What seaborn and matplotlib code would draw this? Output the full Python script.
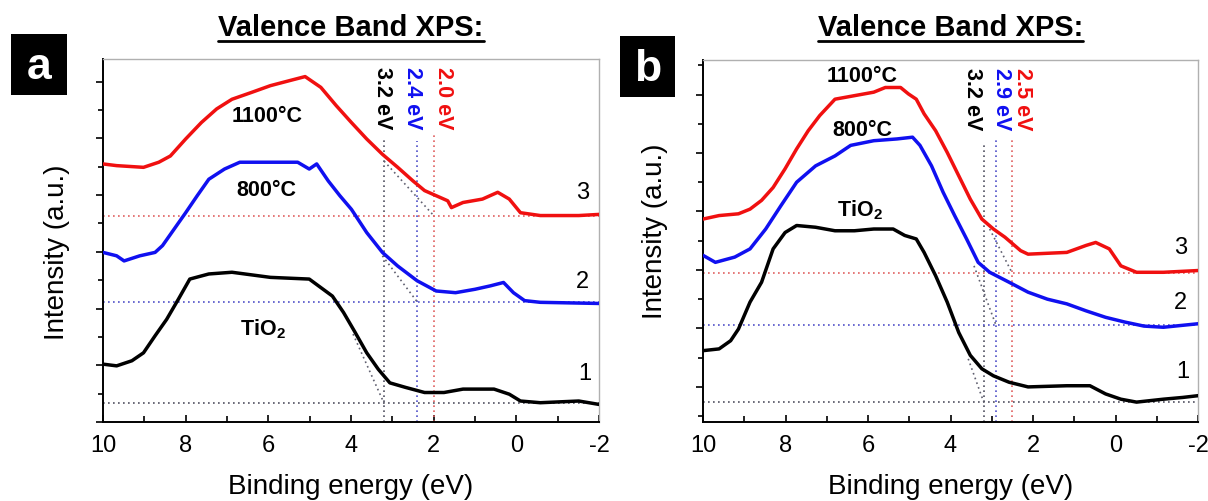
import numpy as np
import pandas as pd
import matplotlib.pyplot as plt
import seaborn as sns
from matplotlib.patches import Rectangle
from matplotlib.lines import Line2D
from matplotlib.ticker import MultipleLocator

# ---- panel a: valence band spectra (binding energy eV, intensity offset a.u.) ----
a_red_x = [10, 9.67, 9.02, 8.65, 8.37, 8.0, 7.62, 7.25, 6.88, 6.41, 5.95, 5.48, 5.11, 4.73, 4.36,
           3.99, 3.62, 3.24, 2.87, 2.5, 2.22, 1.94, 1.66, 1.57, 1.29, 0.82, 0.45, 0.17, -0.1, -0.58, -1.51, -2]
a_red_y = [4.55, 4.52, 4.49, 4.58, 4.69, 4.99, 5.28, 5.52, 5.69, 5.81, 5.93, 6.02, 6.09, 5.9, 5.58,
           5.28, 4.99, 4.72, 4.49, 4.25, 4.08, 3.99, 3.9, 3.78, 3.87, 3.93, 4.05, 3.93, 3.69, 3.64, 3.64, 3.66]
a_blue_x = [10, 9.67, 9.49, 9.11, 8.74, 8.56, 8.28, 8.0, 7.72, 7.44, 7.06, 6.69, 5.95, 5.29, 5.01, 4.83,
            4.55, 4.27, 3.99, 3.62, 3.24, 2.87, 2.4, 1.94, 1.47, 1.0, 0.63, 0.31, 0.07, -0.2, -0.58, -2]
a_blue_y = [2.99, 2.93, 2.84, 2.93, 2.99, 3.11, 3.4, 3.69, 3.99, 4.28, 4.46, 4.58, 4.58, 4.58, 4.46, 4.55,
            4.25, 3.99, 3.75, 3.34, 2.99, 2.75, 2.49, 2.31, 2.28, 2.34, 2.4, 2.46, 2.28, 2.14, 2.11, 2.09]
a_black_x = [10, 9.67, 9.3, 9.02, 8.74, 8.46, 8.18, 7.9, 7.44, 6.88, 5.95, 5.01, 4.73, 4.45, 4.18, 3.9,
             3.62, 3.34, 3.06, 2.68, 2.22, 1.75, 1.29, 0.54, 0.17, -0.1, -0.58, -1.51, -2]
a_black_y = [1.02, 0.99, 1.08, 1.22, 1.52, 1.81, 2.16, 2.52, 2.61, 2.64, 2.55, 2.52, 2.37, 2.22, 1.93, 1.58,
             1.22, 0.93, 0.69, 0.61, 0.52, 0.52, 0.58, 0.58, 0.49, 0.37, 0.34, 0.37, 0.31]
a_base = [0.33, 2.12, 3.64]          # black, blue, red baselines
a_gap = [3.2, 2.4, 2.0]              # band gap onsets
a_gap_top = [4.99, 4.96, 5.08]
a_tan_start = [(3.95, 1.55), (3.24, 2.93), (3.2, 4.6)]

# ---- panel b ----
b_red_x = [10, 9.61, 9.14, 8.86, 8.58, 8.3, 8.01, 7.73, 7.45, 7.17, 6.8, 6.33, 5.86, 5.58, 5.21, 5.02, 4.83,
           4.64, 4.36, 4.08, 3.8, 3.52, 3.24, 2.96, 2.68, 2.3, 2.12, 1.18, 0.71, 0.48, 0.15, -0.13, -0.51, -1.16, -2]
b_red_y = [2.87, 2.93, 2.96, 3.04, 3.19, 3.41, 3.73, 4.07, 4.38, 4.64, 4.92, 4.98, 5.04, 5.12, 5.12, 5.01, 4.92,
           4.67, 4.38, 4.01, 3.61, 3.21, 2.87, 2.7, 2.56, 2.33, 2.27, 2.3, 2.42, 2.47, 2.36, 2.07, 1.96, 1.96, 1.99]
b_blue_x = [10, 9.7, 9.23, 8.86, 8.48, 8.11, 7.73, 7.27, 6.8, 6.42, 5.86, 5.3, 4.92, 4.74, 4.46, 4.18, 3.9,
            3.61, 3.33, 3.05, 2.58, 2.12, 1.65, 1.18, 0.71, 0.24, -0.22, -0.69, -1.16, -2]
b_blue_y = [2.25, 2.13, 2.22, 2.36, 2.7, 3.1, 3.5, 3.78, 3.95, 4.13, 4.21, 4.24, 4.27, 4.13, 3.78, 3.33, 2.93,
            2.53, 2.13, 1.96, 1.79, 1.62, 1.5, 1.42, 1.3, 1.19, 1.11, 1.04, 1.02, 1.08]
b_black_x = [10, 9.61, 9.33, 9.14, 8.86, 8.58, 8.3, 8.01, 7.73, 7.27, 6.8, 6.33, 5.86, 5.39, 5.11, 4.83, 4.64,
             4.36, 4.08, 3.8, 3.52, 3.24, 2.96, 2.58, 2.12, 1.18, 0.62, 0.24, -0.13, -0.51, -1.16, -1.63, -2]
b_black_y = [0.62, 0.65, 0.79, 0.99, 1.45, 1.79, 2.36, 2.64, 2.76, 2.73, 2.67, 2.67, 2.7, 2.7, 2.59, 2.53, 2.3,
             1.9, 1.45, 0.93, 0.54, 0.31, 0.19, 0.08, 0.0, 0.02, 0.02, -0.12, -0.21, -0.26, -0.21, -0.18, -0.15]
b_base = [-0.25, 1.06, 1.94]
b_gap = [3.2, 2.9, 2.5]
b_gap_top = [4.18, 4.24, 4.27]
b_tan_start = [(3.57, 0.48), (3.43, 2.07), (3.05, 2.7)]

colors = ['black', '#1010f0', '#f01010']
dot_colors = ['#505060', '#5050c8', '#e06060']
temps = ['TiO$_\\mathbf{2}$', '800°C', '1100°C']

sns.set_theme(style='ticks')
plt.rcParams['font.family'] = ['Liberation Sans', 'DejaVu Sans']
plt.rcParams['mathtext.fontset'] = 'custom'
plt.rcParams['mathtext.rm'] = 'Liberation Sans'
plt.rcParams['mathtext.bf'] = 'Liberation Sans:bold'
plt.rcParams['axes.unicode_minus'] = False
for k in ['text.color', 'axes.labelcolor', 'xtick.color', 'ytick.color']:
    plt.rcParams[k] = 'black'

fig = plt.figure(figsize=(12.08, 5.02), dpi=100)
ax_a = fig.add_axes([103 / 1208, 79 / 502, 496 / 1208, 363 / 502])
ax_b = fig.add_axes([703 / 1208, 79 / 502, 495 / 1208, 362 / 502])


def draw_panel(ax, curves, base, gap, gap_top, tan_start, ylim, temp_pos, num_pos, gap_pos, gap_label_top):
    ax.set_xlim(10, -2)
    ax.set_ylim(*ylim)
    dot = (0, (1, 2))
    for i in range(3):
        ax.axhline(base[i], color=dot_colors[i], ls=dot, lw=1.2, zorder=1)
        ax.plot([gap[i], gap[i]], [ylim[0], gap_top[i]], color=dot_colors[i], ls=dot, lw=1.2, zorder=1)
        ax.plot([tan_start[i][0], gap[i]], [tan_start[i][1], base[i]], color='#606070', ls=dot, lw=1.2, zorder=1)
    for i, (x, y) in enumerate(curves):
        df = pd.DataFrame({'E': x, 'I': y})
        sns.lineplot(data=df, x='E', y='I', ax=ax, color=colors[i], lw=2.5, sort=False, zorder=3)
        ax.text(*temp_pos[i], temps[i], fontsize=15.5, fontweight='bold', ha='center', va='center', zorder=4)
        ax.text(*num_pos[i], str(i + 1), fontsize=17, ha='center', va='center')
        ax.text(gap_pos[i], gap_label_top, f'{gap[i]:.1f} eV', color=colors[i], fontsize=15.5,
                fontweight='bold', rotation=270, ha='center', va='top')
    ax.xaxis.set_major_locator(MultipleLocator(2))
    ax.xaxis.set_minor_locator(MultipleLocator(1))
    ax.yaxis.set_major_locator(MultipleLocator(1))
    ax.yaxis.set_minor_locator(MultipleLocator(0.5))
    ax.tick_params(axis='x', which='both', direction='in', width=1.2, labelsize=17, pad=9)
    ax.tick_params(axis='x', which='major', length=5)
    ax.tick_params(axis='x', which='minor', length=4)
    ax.tick_params(axis='y', which='both', direction='out', width=1.2, labelleft=False)
    ax.tick_params(axis='y', which='major', length=5)
    ax.tick_params(axis='y', which='minor', length=3.5)
    for s in ['left', 'bottom']:
        ax.spines[s].set_color('black')
        ax.spines[s].set_linewidth(1.4)
    for s in ['top', 'right']:
        ax.spines[s].set_color('#b0b0b0')
        ax.spines[s].set_linewidth(1.0)
    ax.set_xlabel('Binding energy (eV)', fontsize=20, labelpad=12)
    ax.set_ylabel('Intensity (a.u.)', fontsize=20)


draw_panel(ax_a, [(a_black_x, a_black_y), (a_blue_x, a_blue_y), (a_red_x, a_red_y)],
           a_base, a_gap, a_gap_top, a_tan_start, (0, 6.4),
           [(6.13, 1.66), (6.04, 4.1), (6.04, 5.4)],
           [(-1.65, 0.87), (-1.6, 2.49), (-1.6, 4.05)],
           [3.24, 2.5, 1.75], 6.27)
draw_panel(ax_b, [(b_black_x, b_black_y), (b_blue_x, b_blue_y), (b_red_x, b_red_y)],
           b_base, b_gap, b_gap_top, b_tan_start, (-0.6, 5.59),
           [(6.19, 3.04), (6.14, 4.41), (6.14, 5.32)],
           [(-1.63, 0.28), (-1.58, 1.45), (-1.58, 2.39)],
           [3.47, 2.77, 2.26], 5.47)
ax_a.yaxis.set_label_coords(-0.067, 0.47)
ax_b.yaxis.set_label_coords(-0.071, 0.53)

# panel letters on black squares
for (x0, y0, w, h, letter) in [(11, 35, 56, 61, 'a'), (620, 37, 55, 61, 'b')]:
    fig.add_artist(Rectangle((x0 / 1208, 1 - (y0 + h) / 502), w / 1208, h / 502,
                             transform=fig.transFigure, fc='black', ec='none'))
    fig.text((x0 + w / 2) / 1208, 1 - (y0 + h / 2 + 2) / 502, letter, color='white',
             fontsize=32, fontweight='bold', ha='center', va='center')

# underlined titles
titles = []
for ax in [ax_a, ax_b]:
    pos = ax.get_position()
    titles.append(fig.text((pos.x0 + pos.x1) / 2, 1 - 28 / 502, 'Valence Band XPS:',
                           fontsize=21, fontweight='bold', ha='center', va='center'))
fig.canvas.draw()
r = fig.canvas.get_renderer()
for t in titles:
    bb = t.get_window_extent(r)
    y = 1 - 42 / 502
    fig.add_artist(Line2D([bb.x0 / 1208, bb.x1 / 1208], [y, y], transform=fig.transFigure,
                          color='black', lw=2))

fig.savefig('out.png', dpi=100)
